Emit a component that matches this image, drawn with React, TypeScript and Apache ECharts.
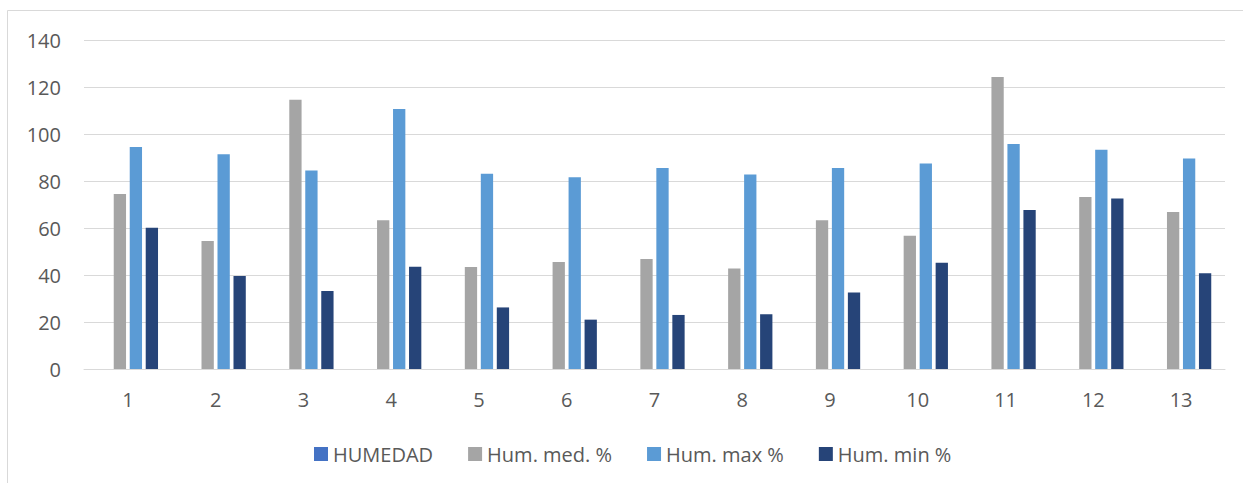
import React, { useEffect, useRef } from "react";
import * as echarts from "echarts";

const categories = ["1", "2", "3", "4", "5", "6", "7", "8", "9", "10", "11", "12", "13"];
const humedad: (number | string)[] = ["-", "-", "-", "-", "-", "-", "-", "-", "-", "-", "-", "-", "-"];
const humMed = [74.5, 54.5, 114.6, 63.3, 43.4, 45.5, 46.8, 42.8, 63.3, 56.7, 124.3, 73.2, 66.8];
const humMax = [94.5, 91.4, 84.5, 110.6, 83.1, 81.6, 85.5, 82.8, 85.5, 87.5, 95.7, 93.3, 89.6];
const humMin = [60.1, 39.6, 33.2, 43.5, 26.2, 21.0, 23.0, 23.3, 32.6, 45.2, 67.7, 72.6, 40.7];

const FONT = "'Open Sans', 'Noto Sans', sans-serif";
const TXT = "#595959";

export default function App() {
  const ref = useRef<HTMLDivElement>(null);
  useEffect(() => {
    if (!ref.current) return;
    const chart = echarts.init(ref.current, null, { renderer: "svg" });
    const barBase = { type: "bar" as const, barWidth: 12.3, barGap: "30%" };
    chart.setOption({
      animation: false,
      textStyle: { fontFamily: FONT },
      graphic: [
        {
          type: "rect",
          shape: { x: 7.5, y: 10.5, width: 1400, height: 700 },
          style: { fill: "none", stroke: "#d9d9d9", lineWidth: 1 },
          silent: true,
        },
      ],
      grid: { left: 84, right: 18, top: 40, bottom: 114, containLabel: false },
      legend: {
        left: 309,
        top: 439,
        padding: 5,
        itemWidth: 14,
        itemHeight: 14,
        itemGap: 35,
        icon: "rect",
        textStyle: { fontFamily: FONT, fontSize: 20, color: TXT },
        data: ["HUMEDAD", "Hum. med. %", "Hum. max %", "Hum. min %"],
      },
      xAxis: {
        type: "category",
        data: categories,
        axisLine: { show: true, lineStyle: { color: "#d9d9d9", width: 1 } },
        axisTick: { show: false },
        axisLabel: { color: TXT, fontSize: 20, fontFamily: FONT, margin: 20 },
      },
      yAxis: {
        type: "value",
        min: 0,
        max: 140,
        interval: 20,
        axisLine: { show: false },
        axisTick: { show: false },
        splitLine: { lineStyle: { color: "#d9d9d9", width: 1 } },
        axisLabel: { color: TXT, fontSize: 20, fontFamily: FONT, margin: 23 },
      },
      series: [
        { ...barBase, name: "HUMEDAD", data: humedad, itemStyle: { color: "#4472C4" } },
        { ...barBase, name: "Hum. med. %", data: humMed, itemStyle: { color: "#A5A5A5" } },
        { ...barBase, name: "Hum. max %", data: humMax, itemStyle: { color: "#5B9BD5" } },
        { ...barBase, name: "Hum. min %", data: humMin, itemStyle: { color: "#264478" } },
      ],
    });
    return () => chart.dispose();
  }, []);
  return (
    <div
      ref={ref}
      style={{ position: "absolute", left: 0, top: 0, width: 1243, height: 483, background: "#fff" }}
    />
  );
}
